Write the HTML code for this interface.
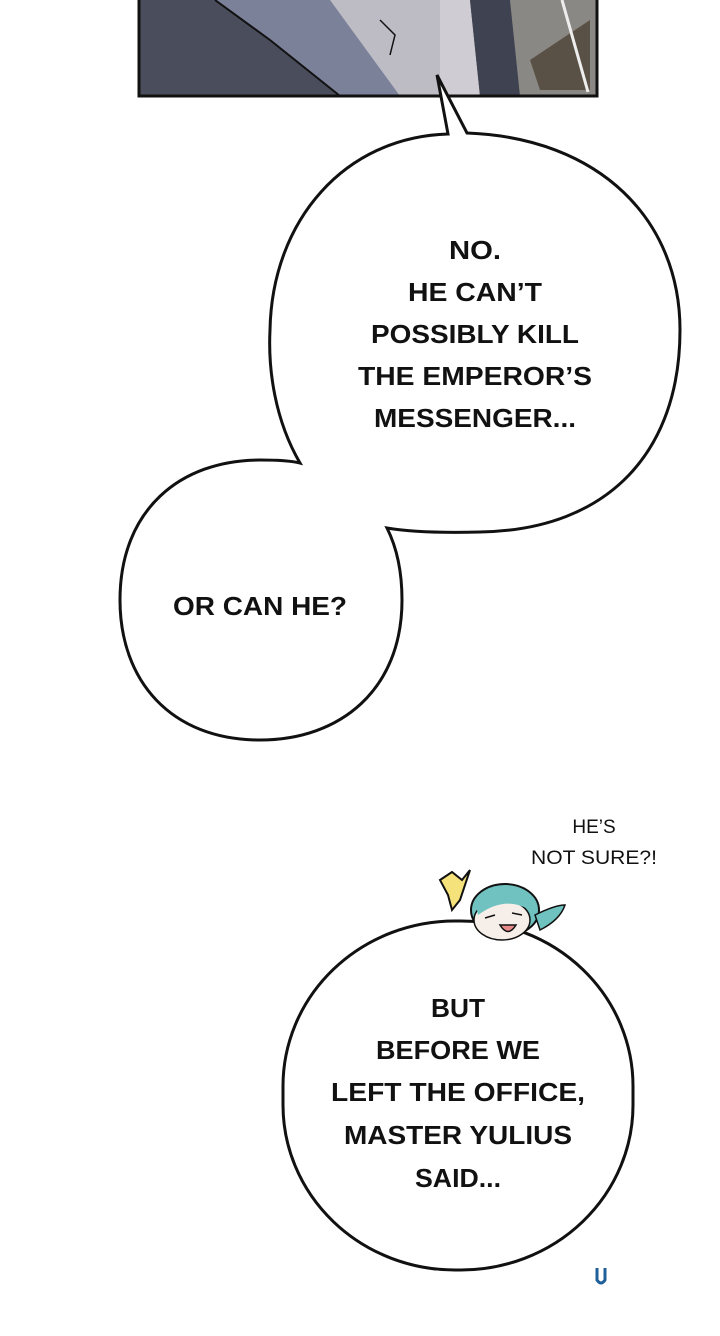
<!DOCTYPE html>
<html><head><meta charset="utf-8"><style>
html,body{margin:0;padding:0;background:#fff;}
svg{display:block}
text{font-family:"Liberation Sans",sans-serif;font-weight:bold;fill:#111;}
</style></head><body>
<svg width="720" height="1336" viewBox="0 0 720 1336" xmlns="http://www.w3.org/2000/svg">
<rect width="720" height="1336" fill="#fff"/>
<rect x="139" y="-5" width="458" height="101" fill="#555a66"/>
<path d="M139 0 L215 0 L270 40 L340 96 L139 96 Z" fill="#4a4e5c"/>
<path d="M215 0 L330 0 L400 40 L430 96 L340 96 L270 40 Z" fill="#7c819a"/>
<path d="M330 0 L440 0 L445 30 L440 96 L400 96 Z" fill="#bdbcc4"/>
<path d="M440 0 L470 0 L480 96 L440 96 Z" fill="#cfcdd3"/>
<path d="M470 0 L510 0 L520 96 L480 96 Z" fill="#3f4250"/>
<path d="M510 0 L597 0 L597 96 L520 96 Z" fill="#8a8884"/>
<path d="M530 60 L590 20 L590 90 L540 90 Z" fill="#5a5146"/>
<line x1="562" y1="0" x2="588" y2="92" stroke="#eee" stroke-width="3"/>
<path d="M215 0 L270 40 L340 96" fill="none" stroke="#111" stroke-width="2"/>
<path d="M380 20 L395 35 L390 55" fill="none" stroke="#111" stroke-width="1.5"/>
<rect x="139" y="-5" width="458" height="101" fill="none" stroke="#111" stroke-width="3"/>
<path d="M300,463 C275,420 268,370 270,330 C272,220 345,137 448,134 L437,75 L467,133 C600,138 680,220 680,330 C680,450 610,530 480,532 C440,533 410,532 387,528 C398,550 402,575 402,600 C402,690 340,740 260,740 C170,740 120,680 120,600 C120,510 180,460 260,460 C280,460 292,461 300,463 Z" fill="#fff" stroke="#111" stroke-width="3" stroke-linejoin="miter"/>
<g font-size="26" text-anchor="middle">
<text x="475" y="259" textLength="52" lengthAdjust="spacingAndGlyphs">NO.</text>
<text x="475" y="301" textLength="134" lengthAdjust="spacingAndGlyphs">HE CAN’T</text>
<text x="475" y="343" textLength="208" lengthAdjust="spacingAndGlyphs">POSSIBLY KILL</text>
<text x="475" y="385" textLength="234" lengthAdjust="spacingAndGlyphs">THE EMPEROR’S</text>
<text x="475" y="427" textLength="202" lengthAdjust="spacingAndGlyphs">MESSENGER...</text>
<text x="260" y="615" textLength="174" lengthAdjust="spacingAndGlyphs">OR CAN HE?</text>
</g>
<rect x="283" y="921" width="350" height="349" rx="172" ry="165" fill="#fff" stroke="#111" stroke-width="3"/>
<g font-size="26" text-anchor="middle">
<text x="458" y="1017" textLength="54" lengthAdjust="spacingAndGlyphs">BUT</text>
<text x="458" y="1059" textLength="164" lengthAdjust="spacingAndGlyphs">BEFORE WE</text>
<text x="458" y="1101" textLength="254" lengthAdjust="spacingAndGlyphs">LEFT THE OFFICE,</text>
<text x="458" y="1144" textLength="228" lengthAdjust="spacingAndGlyphs">MASTER YULIUS</text>
<text x="458" y="1187" textLength="86" lengthAdjust="spacingAndGlyphs">SAID...</text>
</g>
<path d="M440 880 L452 872 L462 880 L470 870 L460 900 L452 910 L448 895 Z" fill="#f6e27a" stroke="#111" stroke-width="2"/>
<ellipse cx="505" cy="910" rx="34" ry="26" fill="#6fc2c0" stroke="#111" stroke-width="2"/>
<ellipse cx="502" cy="920" rx="28" ry="20" fill="#f6efe9" stroke="#111" stroke-width="1.5"/>
<path d="M476 905 Q495 885 530 900 L530 910 Q505 895 478 915 Z" fill="#6fc2c0"/>
<path d="M535 915 Q555 905 565 905 Q560 920 540 930 Z" fill="#6fc2c0" stroke="#111" stroke-width="1.5"/>
<path d="M500 925 Q508 938 516 925 Z" fill="#e88a8a" stroke="#111" stroke-width="1.5"/>
<line x1="485" y1="918" x2="495" y2="915" stroke="#111" stroke-width="1.5"/>
<line x1="512" y1="913" x2="522" y2="915" stroke="#111" stroke-width="1.5"/>
<g font-size="19" text-anchor="middle">
<text x="594" y="833" style="font-weight:normal">HE’S</text>
<text x="594" y="864" style="font-weight:normal" textLength="126" lengthAdjust="spacingAndGlyphs">NOT SURE?!</text>
</g>
<path d="M597 1268 L597 1280 Q601 1286 605 1280 L605 1268" fill="none" stroke="#1f5f9a" stroke-width="3"/>
</svg>
</body></html>
